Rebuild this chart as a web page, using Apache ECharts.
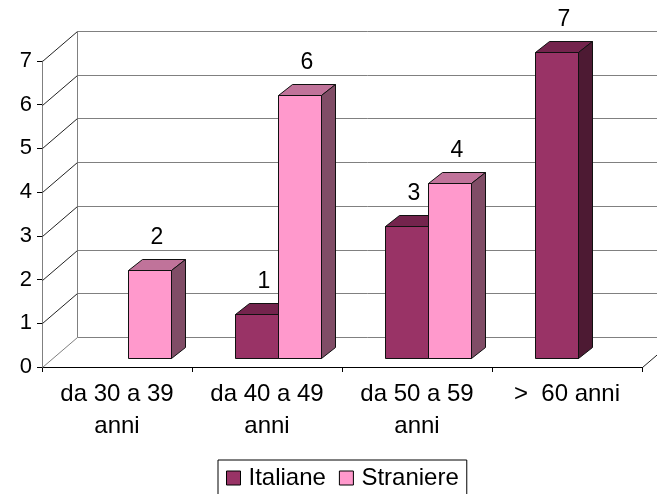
<!DOCTYPE html>
<html>
<head>
<meta charset="utf-8">
<script src="https://cdn.jsdelivr.net/npm/echarts@6/dist/echarts.min.js"></script>
<style>
  html, body { margin: 0; padding: 0; background: #fff; }
  #main { width: 657px; height: 494px; }
</style>
</head>
<body>
<div id="main"></div>
<script>
var categories = ['da 30 a 39\nanni', 'da 40 a 49\nanni', 'da 50 a 59\nanni', '>  60 anni'];
var italiane = [0, 1, 3, 7];
var straniere = [2, 6, 4, 0];
var yTicks = [0, 1, 2, 3, 4, 5, 6, 7];

var FONT = '"Liberation Sans", Arial, sans-serif';
// 3d look: back wall offset, bar front offset, bar depth
var WALL_DX = 35, WALL_DY = -30;
var BAR_DX = 11, BAR_DY = -9.5;
var SIDE_DX = 14, SIDE_DY = -11;
var BAR_W = 43;

function px(v) { return Math.round(v) + 0.5; }

function wallItem(params, api) {
  var cs = params.coordSys;
  var v = api.value(1);
  var y = px(api.coord([0, v])[1]);
  var x0 = px(cs.x), x1 = px(cs.x + cs.width);
  var children = [
    { type: 'line', shape: { x1: x0, y1: y, x2: x0 + WALL_DX, y2: y + WALL_DY },
      style: { stroke: v === 0 ? '#808080' : '#222', lineWidth: 1 } },
    { type: 'line', shape: { x1: x0 + WALL_DX, y1: y + WALL_DY, x2: x1 + WALL_DX + 40, y2: y + WALL_DY },
      style: { stroke: '#808080', lineWidth: 1 } }
  ];
  if (v === 0) {
    var yTop = px(api.coord([0, yTicks[yTicks.length - 1]])[1]);
    children.push(
      { type: 'line', shape: { x1: x0 + WALL_DX, y1: yTop + WALL_DY, x2: x0 + WALL_DX, y2: y + WALL_DY },
        style: { stroke: '#808080', lineWidth: 1 } },
      { type: 'line', shape: { x1: x0, y1: yTop, x2: x0, y2: y },
        style: { stroke: '#808080', lineWidth: 1 } },
      { type: 'line', shape: { x1: x1, y1: y, x2: x1 + WALL_DX, y2: y + WALL_DY },
        style: { stroke: '#222', lineWidth: 1 } }
    );
  }
  return { type: 'group', children: children };
}

function barItem(side, front, top, right) {
  return function (params, api) {
    var v = api.value(1);
    if (!v) return null;
    var c = api.coord([api.value(0), v]);
    var b = api.coord([api.value(0), 0]);
    var x0 = px((side < 0 ? c[0] - BAR_W : c[0]) + BAR_DX);
    var x1 = x0 + BAR_W;
    var yT = px(c[1] + BAR_DY), yB = px(b[1] + BAR_DY);
    var line = { stroke: '#111', lineWidth: 1, lineJoin: 'miter' };
    return {
      type: 'group',
      children: [
        { type: 'polygon', shape: { points: [[x0, yT], [x1, yT], [x1, yB], [x0, yB]] },
          style: Object.assign({ fill: front }, line) },
        { type: 'polygon', shape: { points: [[x0, yT], [x0 + SIDE_DX, yT + SIDE_DY], [x1 + SIDE_DX, yT + SIDE_DY], [x1, yT]] },
          style: Object.assign({ fill: top }, line) },
        { type: 'polygon', shape: { points: [[x1, yT], [x1 + SIDE_DX, yT + SIDE_DY], [x1 + SIDE_DX, yB + SIDE_DY], [x1, yB]] },
          style: Object.assign({ fill: right }, line) },
        { type: 'text', style: { text: String(v), x: (x0 + x1) / 2 + SIDE_DX / 2, y: yT - 33,
          align: 'center', verticalAlign: 'middle', fontSize: 23, fontFamily: FONT, fill: '#000' } }
      ]
    };
  };
}

var chart = echarts.init(document.getElementById('main'));
chart.setOption({
  animation: false,
  backgroundColor: '#fff',
  grid: { left: 42, right: 15, top: 61, bottom: 127, outerBoundsMode: 'none', containLabel: false },
  xAxis: {
    type: 'category',
    data: categories,
    axisLine: { show: true, lineStyle: { color: '#000', width: 1 } },
    axisTick: { show: true, length: 5, alignWithLabel: false, lineStyle: { color: '#000' } },
    axisLabel: { interval: 0, margin: 11, fontSize: 24, lineHeight: 32, color: '#000', fontFamily: FONT },
    splitLine: { show: false }
  },
  yAxis: {
    type: 'value',
    min: 0, max: 7, interval: 1,
    axisLine: { show: true, lineStyle: { color: '#808080', width: 1 } },
    axisTick: { show: true, length: 5, lineStyle: { color: '#000' } },
    axisLabel: { margin: 10, fontSize: 22, color: '#000', fontFamily: FONT },
    splitLine: { show: false }
  },
  legend: {
    data: ['Italiane', 'Straniere'],
    left: 218, top: 460,
    orient: 'horizontal',
    icon: 'rect',
    itemWidth: 14, itemHeight: 14,
    itemGap: 13,
    padding: [6, 8, 10, 8],
    borderColor: '#000', borderWidth: 1,
    itemStyle: { borderColor: '#000', borderWidth: 1 },
    textStyle: { fontSize: 24, color: '#000', fontFamily: FONT, padding: [0, 0, 0, 3] }
  },
  series: [
    {
      type: 'custom', name: 'wall', z: 1, silent: true,
      renderItem: wallItem,
      data: yTicks.map(function (v) { return [0, v]; })
    },
    {
      type: 'custom', name: 'Italiane', z: 2,
      itemStyle: { color: '#993366' },
      renderItem: barItem(-1, '#993366', '#74244d', '#4d1a33'),
      data: italiane.map(function (v, i) { return [i, v]; })
    },
    {
      type: 'custom', name: 'Straniere', z: 3,
      itemStyle: { color: '#ff99cc' },
      renderItem: barItem(1, '#ff99cc', '#c0739a', '#804d66'),
      data: straniere.map(function (v, i) { return [i, v]; })
    }
  ]
});
</script>
</body>
</html>
